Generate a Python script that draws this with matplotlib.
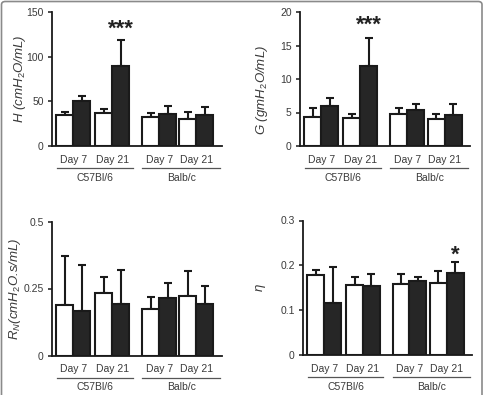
#coding:utf-8
import matplotlib

matplotlib.use("Agg")
import matplotlib.pyplot as plt
import matplotlib.transforms as mtransforms
from matplotlib.patches import FancyBboxPatch

plt.rcParams['font.family'] = ['Liberation Sans', 'DejaVu Sans']
plt.rcParams['mathtext.fontset'] = 'custom'
plt.rcParams['mathtext.rm'] = 'Liberation Sans'
plt.rcParams['mathtext.it'] = 'Liberation Sans:italic'

days = ["Day 7", "Day 21", "Day 7", "Day 21"]
strains = ["C57Bl/6", "Balb/c"]

# white = control, black = treated ; order: C57 D7, C57 D21, Balb D7, Balb D21
H_white = [34.5, 36.5, 32.5, 30.0]
H_white_err = [4.0, 4.5, 4.5, 8.0]
H_black = [50.5, 89.0, 35.5, 34.5]
H_black_err = [6.0, 30.0, 9.5, 9.5]

G_white = [4.4, 4.2, 4.8, 4.0]
G_white_err = [1.2, 0.6, 0.9, 0.8]
G_black = [6.0, 11.9, 5.4, 4.7]
G_black_err = [1.2, 4.2, 0.8, 1.5]

RN_white = [0.19, 0.232, 0.172, 0.223]
RN_white_err = [0.18, 0.062, 0.048, 0.092]
RN_black = [0.166, 0.194, 0.216, 0.194]
RN_black_err = [0.172, 0.126, 0.056, 0.064]

eta_white = [0.178, 0.156, 0.158, 0.160]
eta_white_err = [0.012, 0.017, 0.023, 0.027]
eta_black = [0.117, 0.153, 0.164, 0.182]
eta_black_err = [0.080, 0.027, 0.011, 0.026]

W, H = 485.0, 395.0
centers = [1.25, 3.55, 6.3, 8.5]
TXT = '#3a3a3a'


def px_axes(fig, left, right, top, bottom):
    return fig.add_axes([left / W, 1 - bottom / H, (right - left) / W, (bottom - top) / H])


def draw_panel(fig, box, white, werr, black, berr, ymax, yticks, yticklabels, ylabel, lab_x, lab_y=0.5):
    ax = px_axes(fig, *box)
    xw = [c - 0.5 for c in centers]
    xb = [c + 0.5 for c in centers]
    ax.bar(xw, white, width=1.0, color='white', edgecolor='#1a1a1a', linewidth=1.5, zorder=2)
    ax.bar(xb, black, width=1.0, color='#262626', edgecolor='#1a1a1a', linewidth=1.5, zorder=2)
    ax.errorbar(xw, white, yerr=[[0] * 4, werr], fmt='none', ecolor='#1a1a1a',
                elinewidth=1.5, capsize=3.2, capthick=1.5, zorder=1)
    ax.errorbar(xb, black, yerr=[[0] * 4, berr], fmt='none', ecolor='#1a1a1a',
                elinewidth=1.5, capsize=3.2, capthick=1.5, zorder=1)
    ax.set_xlim(0, 10)
    ax.set_ylim(0, ymax)
    ax.set_yticks(yticks)
    ax.set_yticklabels(yticklabels)
    ax.set_xticks([])
    for s in ['top', 'right']:
        ax.spines[s].set_visible(False)
    for s in ['left', 'bottom']:
        ax.spines[s].set_color('#1a1a1a')
        ax.spines[s].set_linewidth(1.3)
    ax.tick_params(axis='y', direction='out', length=3, width=1.1, color='#1a1a1a',
                   labelsize=7.5, labelcolor=TXT, pad=3)
    ax.set_ylabel(ylabel, fontsize=9.5, style='italic', color=TXT)
    ax.yaxis.set_label_coords(lab_x, lab_y)

    # category labels under the axis
    for c, d in zip(centers, days):
        ax.annotate(d, xy=(c, 0), xycoords=('data', 'axes fraction'), xytext=(0, -14 * 0.72),
                    textcoords='offset points', ha='center', va='center', fontsize=7.5, color=TXT)
    off = mtransforms.ScaledTranslation(0, -22 / 100.0, fig.dpi_scale_trans)
    tr = ax.get_xaxis_transform() + off
    for x0, x1 in [(0.29, 4.76), (5.3, 9.9)]:
        ax.plot([x0, x1], [0, 0], color='#555555', lw=0.9, transform=tr, clip_on=False)
    for x, s in zip([2.55, 7.6], strains):
        ax.annotate(s, xy=(x, 0), xycoords=('data', 'axes fraction'), xytext=(0, -32 * 0.72),
                    textcoords='offset points', ha='center', va='center', fontsize=7.5, color=TXT)
    return ax


def main():
    fig = plt.figure(figsize=(4.85, 3.95), dpi=100)

    ax1 = draw_panel(fig, (52, 222, 12, 146), H_white, H_white_err, H_black, H_black_err,
                     150, [0, 50, 100, 150], ['0', '50', '100', '150'],
                     r'H (cmH$_2$O/mL)', -0.141)
    ax1.text(4.05, 131, '***', ha='center', va='center', fontsize=16, fontweight='bold', color='#222222')

    ax2 = draw_panel(fig, (300, 470, 12, 146), G_white, G_white_err, G_black, G_black_err,
                     20, [0, 5, 10, 15, 20], ['0', '5', '10', '15', '20'],
                     r'G (gmH$_2$O/mL)', -0.176, 0.42)
    ax2.text(4.05, 18.1, '***', ha='center', va='center', fontsize=16, fontweight='bold', color='#222222')

    draw_panel(fig, (52, 222, 221.5, 355.5), RN_white, RN_white_err, RN_black, RN_black_err,
               0.5, [0, 0.25, 0.5], ['0', '0.25', '0.5'],
               r'R$_N$(cmH$_2$O.s/mL)', -0.17)

    ax4 = draw_panel(fig, (303, 472, 220.5, 355), eta_white, eta_white_err, eta_black, eta_black_err,
                     0.3, [0, 0.1, 0.2, 0.3], ['0', '0.1', '0.2', '0.3'],
                     r'$\eta$', -0.207)
    ax4.text(9.0, 0.222, '*', ha='center', va='center', fontsize=16, fontweight='bold', color='#222222')

    # outer frame of the figure
    frame = FancyBboxPatch((1.5 / W, -0.05), 480.5 / W, 1.05 - 1.5 / H,
                           boxstyle='round,pad=0,rounding_size=0.008', transform=fig.transFigure,
                           facecolor='none', edgecolor='#8a8a8a', lw=1.2)
    fig.patches.append(frame)

    fig.savefig('out.png', dpi=100)


if __name__ == '__main__':
    main()
